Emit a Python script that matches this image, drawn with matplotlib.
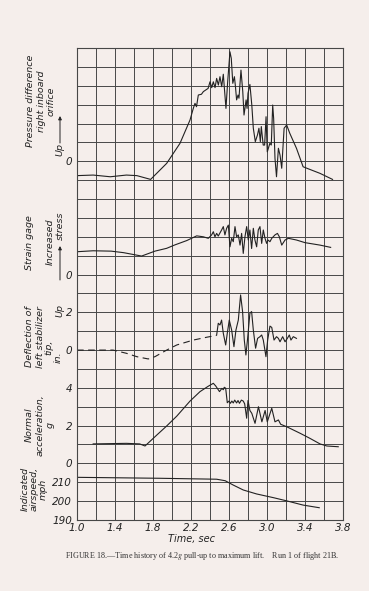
import numpy as np
import matplotlib
matplotlib.use("Agg")
import matplotlib.pyplot as plt

# ---- data (time in sec) ----
# pressure difference, right inboard orifice (grid divisions from zero)
pressure_t = [1.0, 1.17, 1.35, 1.52, 1.63, 1.775, 1.944, 2.084, 2.19, 2.224, 2.242, 2.258, 2.277,
              2.31, 2.33, 2.38, 2.40, 2.418, 2.435, 2.453, 2.47, 2.488, 2.505, 2.523, 2.54, 2.568,
              2.586, 2.61, 2.624, 2.64, 2.657, 2.668, 2.68, 2.695, 2.705, 2.726, 2.745, 2.758, 2.78,
              2.79, 2.80, 2.82, 2.84, 2.856, 2.877, 2.90, 2.915, 2.93, 2.94, 2.96, 2.975, 2.99,
              3.003, 3.03, 3.045, 3.06, 3.07, 3.084, 3.10, 3.12, 3.137, 3.155, 3.18, 3.207, 3.24,
              3.31, 3.38, 3.42, 3.558, 3.69]
pressure_v = [-0.76, -0.73, -0.82, -0.73, -0.76, -0.96, -0.11, 0.95, 2.19, 2.8, 3.07, 2.89, 3.51,
              3.55, 3.69, 3.86, 4.21, 3.9, 4.21, 3.9, 4.39, 4.04, 4.48, 3.95, 4.61, 2.8,
              4.21, 5.8, 5.45, 4.13, 4.48, 3.95, 3.25, 3.51, 3.34, 4.83, 3.69, 2.45, 3.25,
              2.8, 3.6, 4.07, 2.98, 1.75, 1.04, 1.4, 1.75, 1.04, 1.84, 0.86, 0.86, 2.36,
              0.5, 0.95, 0.86, 2.98, 2.27, 0.16, -0.82, 0.69, 0.33, -0.37, 1.75, 1.92, 1.48,
              0.69, -0.29, -0.37, -0.64, -0.96]

# strain gage (grid divisions from zero)
strain_t = [1.0, 1.17, 1.36, 1.49, 1.68, 1.82, 1.944, 2.03, 2.155, 2.26, 2.33, 2.382, 2.417, 2.435,
            2.452, 2.47, 2.487, 2.522, 2.54, 2.557, 2.575, 2.593, 2.61, 2.628, 2.645, 2.663, 2.68,
            2.698, 2.716, 2.733, 2.75, 2.768, 2.786, 2.803, 2.82, 2.838, 2.856, 2.873, 2.891,
            2.908, 2.926, 2.944, 2.961, 2.979, 2.996, 3.01, 3.031, 3.05, 3.084, 3.11, 3.13, 3.155,
            3.19, 3.225, 3.31, 3.40, 3.558, 3.67]
strain_v = [1.21, 1.26, 1.24, 1.16, 0.98, 1.24, 1.39, 1.57, 1.8, 2.05, 2.0, 1.92, 2.1, 2.27,
            2.0, 2.18, 2.04, 2.36, 2.54, 2.1, 2.45, 2.62, 1.47, 1.92, 1.74, 2.54, 2.0,
            2.1, 1.56, 2.18, 1.12, 2.0, 2.54, 1.83, 2.36, 1.38, 2.45, 1.83, 1.47,
            2.36, 2.54, 1.65, 2.36, 1.92, 1.65, 1.83, 1.74, 1.92, 2.1, 2.18, 2.0, 1.56,
            1.83, 1.92, 1.83, 1.69, 1.56, 1.44]

# deflection of left stabilizer tip, in. (dashed part, then solid record)
defl_dash_t = [1.0, 1.38, 1.52, 1.63, 1.75, 1.82, 1.944, 2.05, 2.224, 2.365, 2.47]
defl_dash_v = [0.0, 0.0, -0.17, -0.35, -0.47, -0.35, 0.0, 0.27, 0.53, 0.68, 0.78]
defl_t = [2.47, 2.487, 2.505, 2.522, 2.54, 2.565, 2.582, 2.603, 2.628, 2.652, 2.673, 2.698,
          2.722, 2.743, 2.761, 2.778, 2.796, 2.82, 2.838, 2.856, 2.88, 2.901, 2.926, 2.944,
          2.961, 2.989, 3.007, 3.031, 3.05, 3.074, 3.10, 3.12, 3.137, 3.165, 3.19, 3.214,
          3.235, 3.252, 3.277, 3.31]
defl_v = [0.8, 1.42, 1.33, 1.59, 0.89, 0.27, 0.89, 1.59, 1.06, 0.18, 1.06, 1.59,
          2.92, 2.04, 0.53, -0.26, 0.62, 1.95, 2.04, 1.06, 0.1, 0.62, 0.71, 0.8,
          0.53, -0.35, 0.53, 1.27, 1.2, 0.53, 0.71, 0.62, 0.44, 0.71, 0.44, 0.62,
          0.8, 0.53, 0.71, 0.62]

# normal acceleration, g
accel_t = [1.17, 1.52, 1.66, 1.716, 1.84, 1.944, 2.05, 2.19, 2.295, 2.38, 2.435, 2.46, 2.50,
           2.525, 2.54, 2.55, 2.565, 2.582, 2.60, 2.615, 2.63, 2.645, 2.66, 2.68, 2.695, 2.71,
           2.73, 2.75, 2.765, 2.786, 2.80, 2.82, 2.84, 2.874, 2.91, 2.946, 2.98, 3.003, 3.05,
           3.084, 3.12, 3.144, 3.207, 3.35, 3.45, 3.558, 3.63, 3.75]
accel_v = [1.03, 1.06, 1.03, 0.92, 1.5, 1.98, 2.5, 3.3, 3.8, 4.08, 4.24, 4.1, 3.8,
           3.97, 3.9, 4.03, 3.98, 3.21, 3.3, 3.18, 3.3, 3.2, 3.35, 3.2, 3.33, 3.18,
           3.35, 3.3, 3.15, 2.39, 3.33, 2.8, 2.65, 2.12, 3.0, 2.2, 2.8, 2.2, 2.92,
           2.2, 2.3, 2.07, 1.94, 1.59, 1.33, 1.03, 0.92, 0.88]

# indicated airspeed, mph
speed_t = [1.0, 1.87, 2.47, 2.56, 2.645, 2.75, 2.89, 3.07, 3.21, 3.38, 3.55]
speed_v = [212.6, 212.1, 211.6, 210.8, 208.5, 205.9, 203.8, 201.8, 200.1, 197.9, 196.5]

x_labels = ["1.0", "1.4", "1.8", "2.2", "2.6", "3.0", "3.4", "3.8"]
y_labels = {0: "190", 1: "200", 2: "210", 3: "0", 5: "2", 7: "4",
            9: "0", 11: "2", 13: "0", 19: "0"}

BG = "#f5eeeb"
INK = "#222222"
GRID = "#474747"
W, H = 369, 591

fig = plt.figure(figsize=(W / 100, H / 100), dpi=100)
fig.patch.set_facecolor(BG)
ax = fig.add_axes([77 / W, 1 - 520 / H, 266 / W, 472 / H])
ax.set_facecolor(BG)

# every trace shares one grid: row = offset + value / scale
def row(vals, offset, scale=1.0):
    return offset + np.asarray(vals) / scale

ax.plot(pressure_t, row(pressure_v, 19), color=INK, lw=0.8)
ax.plot(strain_t, row(strain_v, 13), color=INK, lw=0.8)
ax.plot(defl_dash_t, row(defl_dash_v, 9), color=INK, lw=0.8, ls=(0, (6, 4)))
ax.plot(defl_t, row(defl_v, 9), color=INK, lw=0.8)
ax.plot(accel_t, row(accel_v, 3), color=INK, lw=0.8)
ax.plot(speed_t, row(np.asarray(speed_v) - 190, 0, 10), color=INK, lw=0.8)

ax.set_xlim(1.0, 3.8)
ax.set_ylim(0, 25)
xt = 1.0 + 0.2 * np.arange(15)
ax.set_xticks(xt)
ax.set_xticklabels([x_labels[i // 2] if i % 2 == 0 else "" for i in range(15)])
ax.set_yticks(range(26))
ax.set_yticklabels([y_labels.get(i, "") for i in range(26)])
ax.grid(True, color=GRID, lw=0.7)
for sp in ax.spines.values():
    sp.set_color(GRID)
    sp.set_linewidth(0.8)
ax.tick_params(length=0, labelsize=7.5, colors=INK)
ax.tick_params(axis="y", pad=3.5)
ax.tick_params(axis="x", pad=2)
for lab in ax.get_xticklabels() + ax.get_yticklabels():
    lab.set_style("italic")

fig.text(191 / W, 1 - 539 / H, "Time, sec", ha="center", va="center",
         style="italic", fontsize=7, color=INK)


def side(x, y, s, size=6.8, ls=1.2):
    fig.text(x / W, 1 - y / H, s, rotation=90, ha="center", va="center",
             style="italic", fontsize=size, color=INK, linespacing=ls,
             multialignment="center")


def up_arrow(x, y0, y1):
    ax.annotate("", xy=(x / W, 1 - y1 / H), xytext=(x / W, 1 - y0 / H),
                xycoords="figure fraction",
                arrowprops=dict(arrowstyle="-|>", lw=0.7, color=INK,
                                mutation_scale=5, shrinkA=0, shrinkB=0))


side(41, 101, "Pressure difference\nright inboard\norifice")
side(60, 150, "Up")
up_arrow(60, 143, 116)

side(30, 243, "Strain gage")
side(50, 242, "Increased")
side(60, 226, "stress")
up_arrow(60, 280, 246)

side(35, 337, "Deflection of\nleft stabilizer")
side(49, 347, "tip,")
side(58, 357, "in.")
side(60, 311, "Up")

side(40, 425, "Normal\nacceleration,\ng")
side(34, 489, "Indicated\nairspeed,\nmph", ls=1.0)

plt.rcParams["mathtext.fontset"] = "stix"
fig.text(202 / W, 1 - 556 / H,
         "FIGURE 18.\u2014Time history of 4.2$g$ pull-up to maximum lift.    Run 1 of flight 21B.",
         ha="center", va="center", fontsize=5.9, family="Liberation Serif", color="#333333")

fig.savefig("out.png", dpi=100, facecolor=BG)
